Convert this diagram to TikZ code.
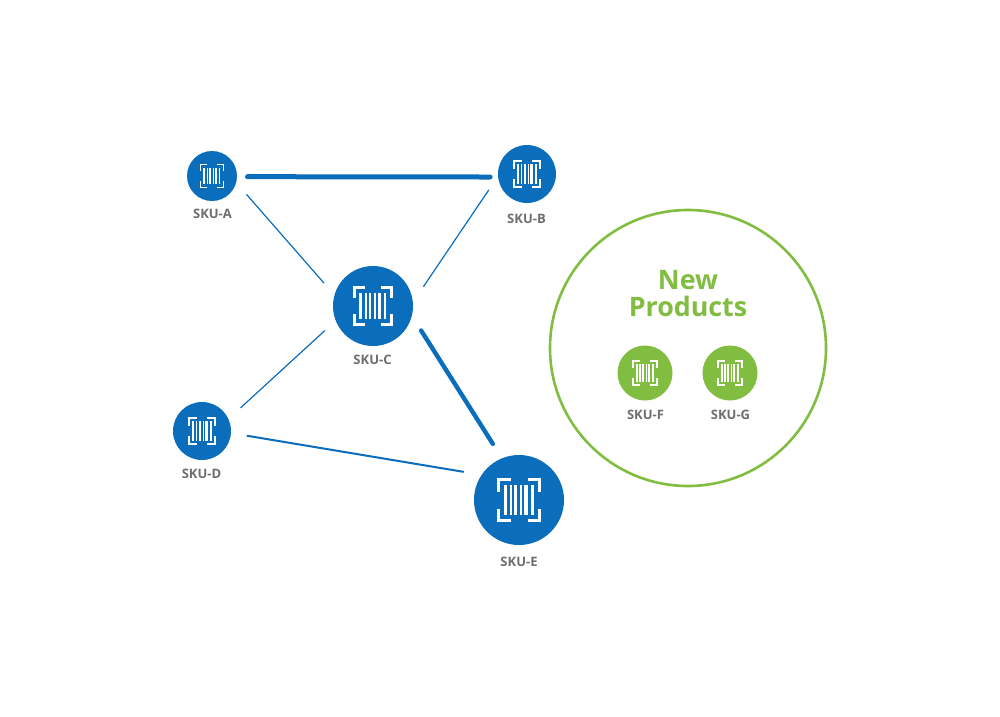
\documentclass[tikz,border=0pt]{standalone}
\usepackage{fontspec}
\setmainfont{Open Sans}
\definecolor{skublue}{HTML}{0A6EBD}
\definecolor{skugreen}{HTML}{80BD41}
\definecolor{skugrey}{HTML}{6D6E71}
\newcommand{\skuicon}[2]{%
 \pgfmathsetmacro{\sk}{#2/45}
 \begin{scope}[shift={(#1)},scale=\sk,white,line width=\sk*3pt]
  \draw (-8.5,-20.5) -- (-20.5,-20.5) -- (-20.5,-8.5);
  \draw (8.5,-20.5) -- (20.5,-20.5) -- (20.5,-8.5);
  \draw (-8.5,20.5) -- (-20.5,20.5) -- (-20.5,8.5);
  \draw (8.5,20.5) -- (20.5,20.5) -- (20.5,8.5);
  \foreach \bx/\bw in {-14/3,-8.2/2,-3.5/3,2/2,7/3.2,13.5/3}
    \fill (\bx-\bw/2,-15) rectangle (\bx+\bw/2,15);
 \end{scope}}
\tikzset{
 x=1pt,y=-1pt,
 disc/.style={circle,fill=#1,inner sep=0pt,outer sep=14pt},
 sku/.style={text=skugrey,font=\fontsize{13}{15}\selectfont\bfseries,inner sep=0pt},
 thinlink/.style={draw=skublue,line width=1.2pt},
 midlink/.style={draw=skublue,line width=2pt},
 thicklink/.style={draw=skublue,line width=4.4pt,line cap=round},
}
\begin{document}
\begin{tikzpicture}
\useasboundingbox (0,0) rectangle (1000,716);
\fill[white] (0,0) rectangle (1000,716);
\node[disc=skublue,minimum size=50pt] (a) at (212,176) {};
\node[disc=skublue,minimum size=58pt] (b) at (527,174) {};
\node[disc=skublue,minimum size=80pt] (c) at (373,306) {};
\node[disc=skublue,minimum size=58pt,outer sep=16pt] (d) at (202,431) {};
\node[disc=skublue,minimum size=90pt,outer sep=17pt] (e) at (519,500) {};
\node[circle,draw=skugreen,line width=2.6pt,minimum size=276pt,inner sep=0pt] (n) at (688,348) {};
\node[disc=skugreen,minimum size=55pt] (f) at (645,373) {};
\node[disc=skugreen,minimum size=55pt] (g) at (730,373) {};
\skuicon{212,176}{25}
\skuicon{527,174}{29}
\skuicon{373,306}{40}
\skuicon{202,431}{29}
\skuicon{519,500}{45}
\skuicon{645,373}{27}
\skuicon{730,373}{27}
\draw[thicklink,line width=5pt,shorten <=-3.5pt,shorten >=-6pt] (a.-1.6) -- (b.184.2);
\draw[thinlink] (a.-28) -- (c.155.8);
\draw[thinlink,shorten <=-2pt] (b.204.7) -- (c.21.2);
\draw[thinlink] (c.207.5) -- (d.31);
\draw[thicklink] (c.-27.5) -- (e.115);
\draw[midlink] (d.-6.5) -- (e.153);
\node[sku] (la) at (212.5,214) {SKU-A};
\node[sku] (lb) at (526.5,218.5) {SKU-B};
\node[sku] (lc) at (372.5,359.5) {SKU-C};
\node[sku] (ld) at (201.5,474) {SKU-D};
\node[sku] (le) at (519,562) {SKU-E};
\node[sku] (lf) at (645.5,415) {SKU-F};
\node[sku] (lg) at (730.5,415) {SKU-G};
\node[text=skugreen,font=\fontsize{26.8}{27}\selectfont\bfseries,align=center,inner sep=0pt] (t) at (688,294) {New\\Products};
\end{tikzpicture}
\end{document}
